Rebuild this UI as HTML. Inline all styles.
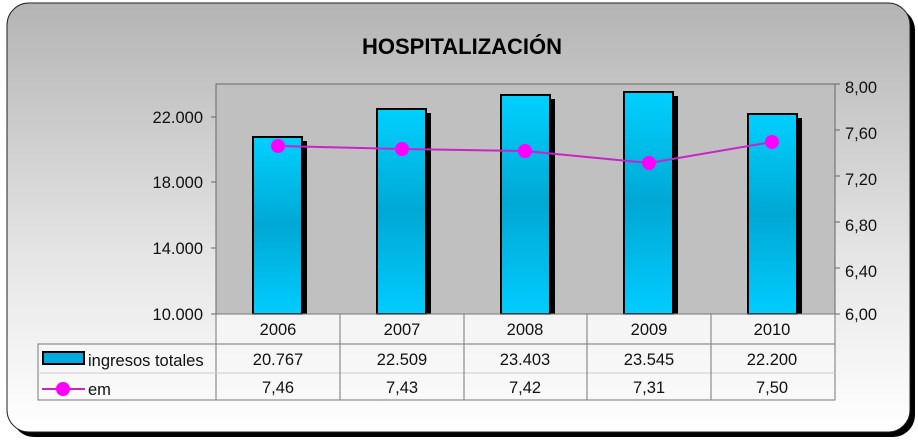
<!DOCTYPE html>
<html><head><style>
body{margin:0;width:918px;height:440px;background:#fff;overflow:hidden}
text{font-family:"Liberation Sans",sans-serif}
</style></head><body>
<svg width="918" height="440" viewBox="0 0 918 440">
<defs>
<linearGradient id="bg" x1="0" y1="0" x2="0" y2="1">
<stop offset="0" stop-color="#b4b4b4"/><stop offset="0.6" stop-color="#e6e6e6"/><stop offset="1" stop-color="#ffffff"/></linearGradient>
<linearGradient id="bar" x1="0" y1="0" x2="0" y2="1">
<stop offset="0" stop-color="#00d0ff"/><stop offset="0.5" stop-color="#00a8d4"/><stop offset="1" stop-color="#00ccff"/></linearGradient>
</defs>
<rect x="12" y="8" width="903" height="429" rx="22" fill="#000"/>
<rect x="7" y="3" width="903" height="429" rx="22" fill="url(#bg)" stroke="#222" stroke-width="1"/>
<text x="462" y="54" font-size="22" font-weight="bold" text-anchor="middle">HOSPITALIZACIÓN</text>
<rect x="216" y="84" width="619" height="230" fill="#c0c0c0" stroke="#666" stroke-width="1"/>
<g font-size="16.5" fill="#111">
<text x="203" y="123" text-anchor="end">22.000</text>
<text x="203" y="188" text-anchor="end">18.000</text>
<text x="203" y="254" text-anchor="end">14.000</text>
<text x="203" y="320" text-anchor="end">10.000</text>
<text x="845" y="93">8,00</text>
<text x="845" y="139">7,60</text>
<text x="845" y="185">7,20</text>
<text x="845" y="231">6,80</text>
<text x="845" y="277">6,40</text>
<text x="845" y="320">6,00</text>
</g>
<g stroke="#666">
<line x1="211" y1="117" x2="216" y2="117"/><line x1="211" y1="182" x2="216" y2="182"/><line x1="211" y1="248" x2="216" y2="248"/><line x1="211" y1="314" x2="216" y2="314"/>
<line x1="835" y1="84" x2="840" y2="84"/><line x1="835" y1="130" x2="840" y2="130"/><line x1="835" y1="176" x2="840" y2="176"/><line x1="835" y1="222" x2="840" y2="222"/><line x1="835" y1="268" x2="840" y2="268"/><line x1="835" y1="314" x2="840" y2="314"/>
</g>
<g>
<rect x="257" y="141" width="50" height="173" fill="#000"/><rect x="253" y="137" width="49" height="177" fill="url(#bar)" stroke="#000" stroke-width="2"/>
<rect x="381" y="113" width="50" height="201" fill="#000"/><rect x="377" y="109" width="49" height="205" fill="url(#bar)" stroke="#000" stroke-width="2"/>
<rect x="505" y="99" width="50" height="215" fill="#000"/><rect x="501" y="95" width="49" height="219" fill="url(#bar)" stroke="#000" stroke-width="2"/>
<rect x="628" y="96" width="50" height="218" fill="#000"/><rect x="624" y="92" width="49" height="222" fill="url(#bar)" stroke="#000" stroke-width="2"/>
<rect x="752" y="118" width="50" height="196" fill="#000"/><rect x="748" y="114" width="49" height="200" fill="url(#bar)" stroke="#000" stroke-width="2"/>
</g>
<polyline points="278,146 402,149 525,151 649,163 772,142" fill="none" stroke="#cc22cc" stroke-width="2"/>
<g fill="#ff00ff"><circle cx="278" cy="146" r="7"/><circle cx="402" cy="149" r="7"/><circle cx="525" cy="151" r="7"/><circle cx="649" cy="163" r="7"/><circle cx="772" cy="142" r="7"/></g>
<g fill="#f8f8f8" fill-opacity="0.6" stroke="#777" stroke-width="1">
<rect x="216" y="314" width="619" height="86"/>
<rect x="38" y="344" width="178" height="56"/>
</g>
<g stroke="#777">
<line x1="38" y1="373" x2="835" y2="373" stroke="#ccc"/>
<line x1="216" y1="344" x2="835" y2="344"/>
<line x1="340" y1="314" x2="340" y2="400"/><line x1="464" y1="314" x2="464" y2="400"/><line x1="587" y1="314" x2="587" y2="400"/><line x1="711" y1="314" x2="711" y2="400"/>
</g>
<rect x="43" y="352" width="41" height="12" fill="#00aadd" stroke="#000" stroke-width="2"/>
<line x1="42" y1="389" x2="85" y2="389" stroke="#cc22cc" stroke-width="2"/><circle cx="63" cy="389" r="7" fill="#ff00ff"/>
<g font-size="16.5" fill="#111" text-anchor="middle">
<text x="278" y="335">2006</text><text x="402" y="335">2007</text><text x="525" y="335">2008</text><text x="649" y="335">2009</text><text x="772" y="335">2010</text>
<text x="278" y="365">20.767</text><text x="402" y="365">22.509</text><text x="525" y="365">23.403</text><text x="649" y="365">23.545</text><text x="772" y="365">22.200</text>
<text x="278" y="393">7,46</text><text x="402" y="393">7,43</text><text x="525" y="393">7,42</text><text x="649" y="393">7,31</text><text x="772" y="393">7,50</text>
<text x="88" y="366" text-anchor="start">ingresos totales</text>
<text x="88" y="395" text-anchor="start">em</text>
</g>
</svg>
</body></html>
